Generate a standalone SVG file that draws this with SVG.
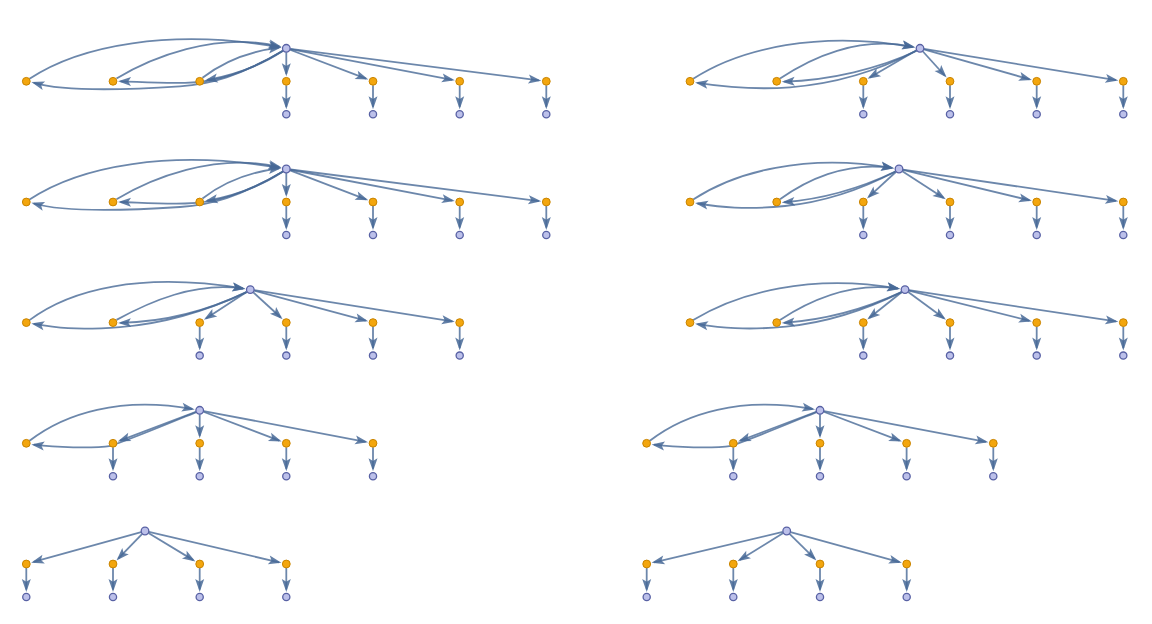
<svg xmlns="http://www.w3.org/2000/svg" width="1152" height="624" viewBox="0 0 1152 624">
<style>
.e path{fill:none;stroke:#476996;stroke-opacity:.8;stroke-width:1.8;marker-end:url(#a)}
.o{fill:#f3a60e;stroke:#c98400;stroke-width:1}
.b{fill:#bcc0ea;stroke:#5861a4;stroke-width:1.3}
</style>
<defs>
<marker id="a" markerUnits="userSpaceOnUse" markerWidth="15" markerHeight="11" refX="10.5" refY="5.5" orient="auto" overflow="visible"><path d="M0,1 L13,5.5 L0,10 L2.8,5.5 Z" fill="#476996" fill-opacity="0.85"/></marker>
</defs>
<rect width="1152" height="624" fill="#fff"/>

<!-- Row 1 left -->
<g id="p1l" transform="translate(0,48.3)">
<g class="e" id="p1l-edges">
<path d="M29.5,30.5 C80,-3 170,-20 278.9,-1.3"/>
<path d="M116.5,30.3 C150,10 215,-17 279.1,-2"/>
<path d="M202.5,29.5 C225,12 250,3 279,-0.7"/>
<path d="M283,2.5 C260,18 232,27 207.2,31.7"/>
<path d="M283,2.5 C245,25 215,34 185,34.5 C155,35 135,33.2 120.5,33"/>
<path d="M283,2.5 C240,28 210,36 180,38 C150,40 70,45 33.8,34.5"/>
<path d="M286.3,4 L286.3,25.5"/>
<path d="M290.04,1.42 L365.99,30.33"/>
<path d="M290.23,0.75 L452.33,31.6"/>
<path d="M290.27,0.5 L538.86,32.06"/>
<path d="M286.3,37 L286.3,58.5"/>
<path d="M373,37 L373,58.5"/>
<path d="M459.7,37 L459.7,58.5"/>
<path d="M546.3,37 L546.3,58.5"/>
</g>
<g id="p1l-hub"><circle class="b" cx="286.3" cy="0" r="3.8"/></g>
<g id="p1l-o1"><circle class="o" cx="26.3" cy="33" r="3.9"/></g>
<g id="p1l-o2"><circle class="o" cx="113" cy="33" r="3.9"/></g>
<g id="p1l-o3"><circle class="o" cx="199.7" cy="33" r="3.9"/></g>
<g id="p1l-o4"><circle class="o" cx="286.3" cy="33" r="3.9"/></g>
<g id="p1l-o5"><circle class="o" cx="373" cy="33" r="3.9"/></g>
<g id="p1l-o6"><circle class="o" cx="459.7" cy="33" r="3.9"/></g>
<g id="p1l-o7"><circle class="o" cx="546.3" cy="33" r="3.9"/></g>
<g id="p1l-l4"><circle class="b" cx="286.3" cy="66" r="3.6"/></g>
<g id="p1l-l5"><circle class="b" cx="373" cy="66" r="3.6"/></g>
<g id="p1l-l6"><circle class="b" cx="459.7" cy="66" r="3.6"/></g>
<g id="p1l-l7"><circle class="b" cx="546.3" cy="66" r="3.6"/></g>
</g>

<!-- Row 2 left -->
<g id="p2l" transform="translate(0,169)">
<g class="e" id="p2l-edges">
<path d="M29.5,30.5 C80,-3 170,-20 278.9,-1.3"/>
<path d="M116.5,30.3 C150,10 215,-17 279.1,-2"/>
<path d="M202.5,29.5 C225,12 250,3 279,-0.7"/>
<path d="M283,2.5 C260,18 232,27 207.2,31.7"/>
<path d="M283,2.5 C245,25 215,34 185,34.5 C155,35 135,33.2 120.5,33"/>
<path d="M283,2.5 C240,28 210,36 180,38 C150,40 70,45 33.8,34.5"/>
<path d="M286.3,4 L286.3,25.5"/>
<path d="M290.04,1.42 L365.99,30.33"/>
<path d="M290.23,0.75 L452.33,31.6"/>
<path d="M290.27,0.5 L538.86,32.06"/>
<path d="M286.3,37 L286.3,58.5"/>
<path d="M373,37 L373,58.5"/>
<path d="M459.7,37 L459.7,58.5"/>
<path d="M546.3,37 L546.3,58.5"/>
</g>
<g id="p2l-hub"><circle class="b" cx="286.3" cy="0" r="3.8"/></g>
<g id="p2l-o1"><circle class="o" cx="26.3" cy="33" r="3.9"/></g>
<g id="p2l-o2"><circle class="o" cx="113" cy="33" r="3.9"/></g>
<g id="p2l-o3"><circle class="o" cx="199.7" cy="33" r="3.9"/></g>
<g id="p2l-o4"><circle class="o" cx="286.3" cy="33" r="3.9"/></g>
<g id="p2l-o5"><circle class="o" cx="373" cy="33" r="3.9"/></g>
<g id="p2l-o6"><circle class="o" cx="459.7" cy="33" r="3.9"/></g>
<g id="p2l-o7"><circle class="o" cx="546.3" cy="33" r="3.9"/></g>
<g id="p2l-l4"><circle class="b" cx="286.3" cy="66" r="3.6"/></g>
<g id="p2l-l5"><circle class="b" cx="373" cy="66" r="3.6"/></g>
<g id="p2l-l6"><circle class="b" cx="459.7" cy="66" r="3.6"/></g>
<g id="p2l-l7"><circle class="b" cx="546.3" cy="66" r="3.6"/></g>
</g>

<!-- Row 3 left -->
<g id="p3l" transform="translate(0,289.6)">
<g class="e" id="p3l-edges">
<path d="M29.5,30.5 C70,0 140,-18 242.9,-1.2"/>
<path d="M116.5,30.3 C150,12 195,-8 242.9,-1"/>
<path d="M246.5,2.5 C210,20 170,32 120.5,33.3"/>
<path d="M246.5,2.5 C205,22 165,34 120,37.5 C75,41 55,38 33.8,34.3"/>
<path d="M246.95,2.19 L205.98,28.9"/>
<path d="M253.25,2.7 L280.77,27.93"/>
<path d="M254.16,1.04 L365.76,31.05"/>
<path d="M254.25,0.62 L452.29,31.83"/>
<path d="M199.7,37 L199.7,58.5"/>
<path d="M286.3,37 L286.3,58.5"/>
<path d="M373,37 L373,58.5"/>
<path d="M459.7,37 L459.7,58.5"/>
</g>
<g id="p3l-hub"><circle class="b" cx="250.3" cy="0" r="3.8"/></g>
<g id="p3l-o1"><circle class="o" cx="26.3" cy="33" r="3.9"/></g>
<g id="p3l-o2"><circle class="o" cx="113" cy="33" r="3.9"/></g>
<g id="p3l-o3"><circle class="o" cx="199.7" cy="33" r="3.9"/></g>
<g id="p3l-o4"><circle class="o" cx="286.3" cy="33" r="3.9"/></g>
<g id="p3l-o5"><circle class="o" cx="373" cy="33" r="3.9"/></g>
<g id="p3l-o6"><circle class="o" cx="459.7" cy="33" r="3.9"/></g>
<g id="p3l-l3"><circle class="b" cx="199.7" cy="66" r="3.6"/></g>
<g id="p3l-l4"><circle class="b" cx="286.3" cy="66" r="3.6"/></g>
<g id="p3l-l5"><circle class="b" cx="373" cy="66" r="3.6"/></g>
<g id="p3l-l6"><circle class="b" cx="459.7" cy="66" r="3.6"/></g>
</g>

<!-- Row 4 left -->
<g id="p4l" transform="translate(0,410.3)">
<g class="e" id="p4l-edges">
<path d="M29.5,30.5 C65,3 120,-14 192.3,-1.3"/>
<path d="M196.3,1.8 C170,12.5 138,26 111,35.5 C92,38.5 55,37 33.8,34.4"/>
<path d="M195.96,1.42 L120.01,30.33"/>
<path d="M199.7,4 L199.7,25.5"/>
<path d="M203.44,1.42 L279.29,30.33"/>
<path d="M203.63,0.75 L365.63,31.6"/>
<path d="M113,37 L113,58.5"/>
<path d="M199.7,37 L199.7,58.5"/>
<path d="M286.3,37 L286.3,58.5"/>
<path d="M373,37 L373,58.5"/>
</g>
<g id="p4l-hub"><circle class="b" cx="199.7" cy="0" r="3.8"/></g>
<g id="p4l-o1"><circle class="o" cx="26.3" cy="33" r="3.9"/></g>
<g id="p4l-o2"><circle class="o" cx="113" cy="33" r="3.9"/></g>
<g id="p4l-o3"><circle class="o" cx="199.7" cy="33" r="3.9"/></g>
<g id="p4l-o4"><circle class="o" cx="286.3" cy="33" r="3.9"/></g>
<g id="p4l-o5"><circle class="o" cx="373" cy="33" r="3.9"/></g>
<g id="p4l-l2"><circle class="b" cx="113" cy="66" r="3.6"/></g>
<g id="p4l-l3"><circle class="b" cx="199.7" cy="66" r="3.6"/></g>
<g id="p4l-l4"><circle class="b" cx="286.3" cy="66" r="3.6"/></g>
<g id="p4l-l5"><circle class="b" cx="373" cy="66" r="3.6"/></g>
</g>

<!-- Row 5 left -->
<g id="p5l" transform="translate(0,531)">
<g class="e" id="p5l-edges">
<path d="M141.15,1.07 L33.53,30.99"/>
<path d="M142.22,2.87 L118.22,27.62"/>
<path d="M148.43,2.07 L193.28,29.13"/>
<path d="M148.9,0.91 L279,31.29"/>
<path d="M26.3,37 L26.3,58.5"/>
<path d="M113,37 L113,58.5"/>
<path d="M199.7,37 L199.7,58.5"/>
<path d="M286.3,37 L286.3,58.5"/>
</g>
<g id="p5l-hub"><circle class="b" cx="145" cy="0" r="3.8"/></g>
<g id="p5l-o1"><circle class="o" cx="26.3" cy="33" r="3.9"/></g>
<g id="p5l-o2"><circle class="o" cx="113" cy="33" r="3.9"/></g>
<g id="p5l-o3"><circle class="o" cx="199.7" cy="33" r="3.9"/></g>
<g id="p5l-o4"><circle class="o" cx="286.3" cy="33" r="3.9"/></g>
<g id="p5l-l1"><circle class="b" cx="26.3" cy="66" r="3.6"/></g>
<g id="p5l-l2"><circle class="b" cx="113" cy="66" r="3.6"/></g>
<g id="p5l-l3"><circle class="b" cx="199.7" cy="66" r="3.6"/></g>
<g id="p5l-l4"><circle class="b" cx="286.3" cy="66" r="3.6"/></g>
</g>

<!-- Row 1 right -->
<g id="p1r" transform="translate(0,48.3)">
<g class="e" id="p1r-edges">
<path d="M693.2,30.5 C740,0 820,-18 912.6,-1.3"/>
<path d="M780,30.3 C810,10 858,-13 912.7,-1.5"/>
<path d="M916.5,2.5 C880,20 830,32 784.2,33.3"/>
<path d="M916.5,2.5 C875,24 830,36 790,39 C750,42 720,38 697.5,34.5"/>
<path d="M916.54,2.01 L869.78,29.23"/>
<path d="M922.69,2.96 L944.95,27.45"/>
<path d="M923.85,1.09 L1029.48,30.96"/>
<path d="M923.95,0.64 L1115.9,31.8"/>
<path d="M863.3,37 L863.3,58.5"/>
<path d="M950,37 L950,58.5"/>
<path d="M1036.7,37 L1036.7,58.5"/>
<path d="M1123.3,37 L1123.3,58.5"/>
</g>
<g id="p1r-hub"><circle class="b" cx="920" cy="0" r="3.8"/></g>
<g id="p1r-o1"><circle class="o" cx="690" cy="33" r="3.9"/></g>
<g id="p1r-o2"><circle class="o" cx="776.7" cy="33" r="3.9"/></g>
<g id="p1r-o3"><circle class="o" cx="863.3" cy="33" r="3.9"/></g>
<g id="p1r-o4"><circle class="o" cx="950" cy="33" r="3.9"/></g>
<g id="p1r-o5"><circle class="o" cx="1036.7" cy="33" r="3.9"/></g>
<g id="p1r-o6"><circle class="o" cx="1123.3" cy="33" r="3.9"/></g>
<g id="p1r-l3"><circle class="b" cx="863.3" cy="66" r="3.6"/></g>
<g id="p1r-l4"><circle class="b" cx="950" cy="66" r="3.6"/></g>
<g id="p1r-l5"><circle class="b" cx="1036.7" cy="66" r="3.6"/></g>
<g id="p1r-l6"><circle class="b" cx="1123.3" cy="66" r="3.6"/></g>
</g>

<!-- Row 2 right -->
<g id="p2r" transform="translate(0,169)">
<g class="e" id="p2r-edges">
<path d="M693.2,30.5 C735,3 805,-16 891.6,-1.2"/>
<path d="M780,30.3 C805,12 845,-8 891.6,-1"/>
<path d="M895.5,2.5 C865,17 825,30 784.2,33.2"/>
<path d="M895.5,2.5 C862,20 825,33 785,37 C745,41 720,38 697.5,34.5"/>
<path d="M896.06,2.72 L868.81,27.91"/>
<path d="M902.36,2.17 L943.7,28.93"/>
<path d="M902.89,0.93 L1029.41,31.25"/>
<path d="M902.96,0.58 L1115.88,31.91"/>
<path d="M863.3,37 L863.3,58.5"/>
<path d="M950,37 L950,58.5"/>
<path d="M1036.7,37 L1036.7,58.5"/>
<path d="M1123.3,37 L1123.3,58.5"/>
</g>
<g id="p2r-hub"><circle class="b" cx="899" cy="0" r="3.8"/></g>
<g id="p2r-o1"><circle class="o" cx="690" cy="33" r="3.9"/></g>
<g id="p2r-o2"><circle class="o" cx="776.7" cy="33" r="3.9"/></g>
<g id="p2r-o3"><circle class="o" cx="863.3" cy="33" r="3.9"/></g>
<g id="p2r-o4"><circle class="o" cx="950" cy="33" r="3.9"/></g>
<g id="p2r-o5"><circle class="o" cx="1036.7" cy="33" r="3.9"/></g>
<g id="p2r-o6"><circle class="o" cx="1123.3" cy="33" r="3.9"/></g>
<g id="p2r-l3"><circle class="b" cx="863.3" cy="66" r="3.6"/></g>
<g id="p2r-l4"><circle class="b" cx="950" cy="66" r="3.6"/></g>
<g id="p2r-l5"><circle class="b" cx="1036.7" cy="66" r="3.6"/></g>
<g id="p2r-l6"><circle class="b" cx="1123.3" cy="66" r="3.6"/></g>
</g>

<!-- Row 3 right -->
<g id="p3r" transform="translate(0,289.6)">
<g class="e" id="p3r-edges">
<path d="M693.2,30.5 C738,3 810,-16 897.6,-1.2"/>
<path d="M780,30.3 C808,12 850,-8 897.6,-1"/>
<path d="M901.5,2.5 C870,17 828,30 784.2,33.2"/>
<path d="M901.5,2.5 C866,20 827,33 786,37 C746,41 720,38 697.5,34.5"/>
<path d="M901.86,2.48 L869.18,28.35"/>
<path d="M908.23,2.37 L943.95,28.56"/>
<path d="M908.88,0.97 L1029.42,31.18"/>
<path d="M908.96,0.6 L1115.88,31.88"/>
<path d="M863.3,37 L863.3,58.5"/>
<path d="M950,37 L950,58.5"/>
<path d="M1036.7,37 L1036.7,58.5"/>
<path d="M1123.3,37 L1123.3,58.5"/>
</g>
<g id="p3r-hub"><circle class="b" cx="905" cy="0" r="3.8"/></g>
<g id="p3r-o1"><circle class="o" cx="690" cy="33" r="3.9"/></g>
<g id="p3r-o2"><circle class="o" cx="776.7" cy="33" r="3.9"/></g>
<g id="p3r-o3"><circle class="o" cx="863.3" cy="33" r="3.9"/></g>
<g id="p3r-o4"><circle class="o" cx="950" cy="33" r="3.9"/></g>
<g id="p3r-o5"><circle class="o" cx="1036.7" cy="33" r="3.9"/></g>
<g id="p3r-o6"><circle class="o" cx="1123.3" cy="33" r="3.9"/></g>
<g id="p3r-l3"><circle class="b" cx="863.3" cy="66" r="3.6"/></g>
<g id="p3r-l4"><circle class="b" cx="950" cy="66" r="3.6"/></g>
<g id="p3r-l5"><circle class="b" cx="1036.7" cy="66" r="3.6"/></g>
<g id="p3r-l6"><circle class="b" cx="1123.3" cy="66" r="3.6"/></g>
</g>

<!-- Row 4 right -->
<g id="p4r" transform="translate(620.3,410.3)">
<g class="e" id="p4r-edges">
<path d="M29.5,30.5 C65,3 120,-14 192.3,-1.3"/>
<path d="M196.3,1.8 C170,12.5 138,26 111,35.5 C92,38.5 55,37 33.8,34.4"/>
<path d="M195.96,1.42 L120.01,30.33"/>
<path d="M199.7,4 L199.7,25.5"/>
<path d="M203.44,1.42 L279.29,30.33"/>
<path d="M203.63,0.75 L365.63,31.6"/>
<path d="M113,37 L113,58.5"/>
<path d="M199.7,37 L199.7,58.5"/>
<path d="M286.3,37 L286.3,58.5"/>
<path d="M373,37 L373,58.5"/>
</g>
<g id="p4r-hub"><circle class="b" cx="199.7" cy="0" r="3.8"/></g>
<g id="p4r-o1"><circle class="o" cx="26.3" cy="33" r="3.9"/></g>
<g id="p4r-o2"><circle class="o" cx="113" cy="33" r="3.9"/></g>
<g id="p4r-o3"><circle class="o" cx="199.7" cy="33" r="3.9"/></g>
<g id="p4r-o4"><circle class="o" cx="286.3" cy="33" r="3.9"/></g>
<g id="p4r-o5"><circle class="o" cx="373" cy="33" r="3.9"/></g>
<g id="p4r-l2"><circle class="b" cx="113" cy="66" r="3.6"/></g>
<g id="p4r-l3"><circle class="b" cx="199.7" cy="66" r="3.6"/></g>
<g id="p4r-l4"><circle class="b" cx="286.3" cy="66" r="3.6"/></g>
<g id="p4r-l5"><circle class="b" cx="373" cy="66" r="3.6"/></g>
</g>

<!-- Row 5 right -->
<g id="p5r" transform="translate(0,531)">
<g class="e" id="p5r-edges">
<path d="M782.81,0.92 L654,31.28"/>
<path d="M783.3,2.1 L739.68,29.06"/>
<path d="M789.54,2.82 L814.67,27.72"/>
<path d="M790.56,1.06 L899.47,31.01"/>
<path d="M646.7,37 L646.7,58.5"/>
<path d="M733.3,37 L733.3,58.5"/>
<path d="M820,37 L820,58.5"/>
<path d="M906.7,37 L906.7,58.5"/>
</g>
<g id="p5r-hub"><circle class="b" cx="786.7" cy="0" r="3.8"/></g>
<g id="p5r-o1"><circle class="o" cx="646.7" cy="33" r="3.9"/></g>
<g id="p5r-o2"><circle class="o" cx="733.3" cy="33" r="3.9"/></g>
<g id="p5r-o3"><circle class="o" cx="820" cy="33" r="3.9"/></g>
<g id="p5r-o4"><circle class="o" cx="906.7" cy="33" r="3.9"/></g>
<g id="p5r-l1"><circle class="b" cx="646.7" cy="66" r="3.6"/></g>
<g id="p5r-l2"><circle class="b" cx="733.3" cy="66" r="3.6"/></g>
<g id="p5r-l3"><circle class="b" cx="820" cy="66" r="3.6"/></g>
<g id="p5r-l4"><circle class="b" cx="906.7" cy="66" r="3.6"/></g>
</g>
</svg>
